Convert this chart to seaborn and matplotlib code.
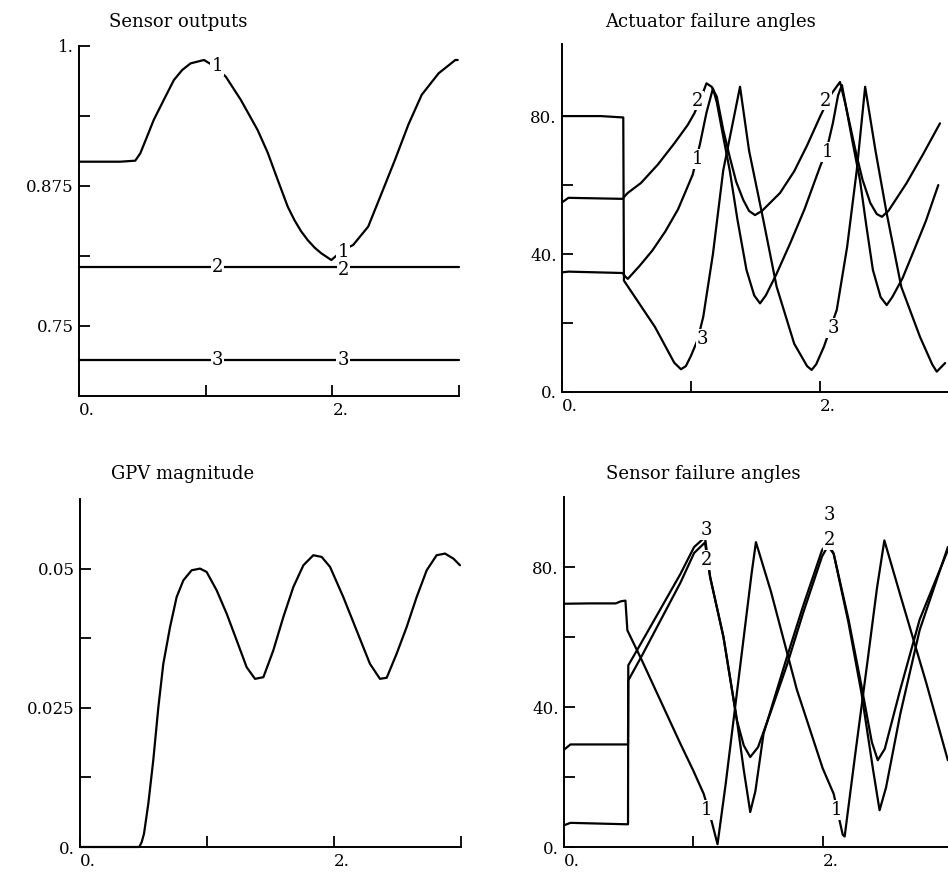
import numpy as np
import pandas as pd
import matplotlib
matplotlib.use("Agg")
import matplotlib.pyplot as plt
import seaborn as sns

# ---- Sensor outputs ----
so1_t = [0, 0.325, 0.444, 0.484, 0.537, 0.590, 0.669, 0.749, 0.815, 0.881, 0.987, 1.06, 1.159,
         1.278, 1.410, 1.489, 1.569, 1.648, 1.701, 1.754, 1.807, 1.86, 1.913, 1.992, 2.085,
         2.164, 2.283, 2.389, 2.494, 2.601, 2.706, 2.839, 2.971, 2.99]
so1_v = [0.8967, 0.8967, 0.8976, 0.9042, 0.919, 0.934, 0.9518, 0.9696, 0.9786, 0.9845, 0.9875,
         0.9825, 0.9726, 0.9518, 0.925, 0.905, 0.8804, 0.8565, 0.8445, 0.8345, 0.8265, 0.820,
         0.8149, 0.8089, 0.8179, 0.8223, 0.8387, 0.8685, 0.8982, 0.930, 0.9565, 0.9756, 0.9875,
         0.9875]
so2_t = [0, 3.0]
so2_v = [0.8025, 0.8025]
so3_t = [0, 3.0]
so3_v = [0.7196, 0.7196]

# ---- Actuator failure angles ----
af1_t = [0, 0.05, 0.47, 0.49, 0.51, 0.6, 0.7, 0.8, 0.9, 1.013, 1.07, 1.12, 1.17, 1.2, 1.25, 1.30,
         1.36, 1.43, 1.49, 1.535, 1.58, 1.66, 1.77, 1.88, 2.0, 2.05, 2.1, 2.14, 2.17, 2.2, 2.25,
         2.31, 2.36, 2.41, 2.47, 2.517, 2.56, 2.64, 2.72, 2.82, 2.917]
af1_v = [34.7, 34.9, 34.5, 33.5, 32.8, 36.5, 41, 46.5, 53, 63, 72, 81, 88, 84, 74, 64.3,
         50, 35.4, 28, 25.7, 28, 34, 43.2, 53, 65.3, 70, 78, 86, 89, 83, 73,
         61.4, 48, 35.4, 27.5, 25.2, 27.5, 33, 40.3, 49.5, 60]
af2_t = [0, 0.02, 0.05, 0.47, 0.48, 0.509, 0.612, 0.742, 0.871, 0.974, 1.026, 1.08, 1.12, 1.16,
         1.2, 1.25, 1.30, 1.35, 1.405, 1.45, 1.496, 1.55, 1.69, 1.8, 1.9, 2.0, 2.08, 2.155, 2.2,
         2.28, 2.33, 2.39, 2.44, 2.48, 2.53, 2.67, 2.8, 2.93]
af2_v = [55.0, 55.5, 56.3, 56.0, 56.5, 57.7, 60.6, 65.9, 72.1, 77.4, 80.8, 85.5, 89.5, 88.5,
         85.6, 76, 68.2, 61, 55.7, 52.5, 51.3, 52.5, 57.7, 64, 71.5, 79.8, 86, 89.9, 83,
         69.2, 61.5, 54.8, 51.6, 50.8, 52.5, 60.5, 69, 77.9]
af3_t = [0, 0.3, 0.475, 0.48, 0.72, 0.87, 0.922, 0.96, 1.0, 1.05, 1.095, 1.17, 1.25, 1.328, 1.38,
         1.45, 1.56, 1.664, 1.8, 1.9, 1.935, 1.97, 2.03, 2.13, 2.21, 2.285, 2.35, 2.43, 2.516,
         2.63, 2.775, 2.87, 2.905, 2.97]
af3_v = [80, 80, 79.6, 32.3, 18.9, 8.5, 6.6, 7.5, 10.5, 15, 21.8, 40, 64.3, 78.8, 88.5,
         70, 50, 30.5, 14, 7.5, 6.4, 8, 13.1, 23.8, 42, 64.3, 88.5, 70, 52,
         30.5, 16, 8, 5.9, 8.4]

# ---- GPV magnitude ----
gpv_t = [0, 0.467, 0.486, 0.504, 0.538, 0.577, 0.617, 0.656, 0.709, 0.761, 0.814, 0.879, 0.945,
         0.997, 1.076, 1.155, 1.234, 1.312, 1.378, 1.444, 1.522, 1.601, 1.680, 1.759, 1.837,
         1.903, 1.969, 2.073, 2.178, 2.283, 2.362, 2.415, 2.493, 2.572, 2.651, 2.730, 2.808,
         2.874, 2.940, 2.992]
gpv_v = [0, 0, 0.0009, 0.0024, 0.0078, 0.0156, 0.0251, 0.0329, 0.0395, 0.0449, 0.0479, 0.0497,
         0.0500, 0.0494, 0.0461, 0.0419, 0.0371, 0.0323, 0.0302, 0.0305, 0.0353, 0.0413, 0.0467,
         0.0506, 0.0524, 0.0521, 0.0503, 0.0449, 0.0389, 0.0329, 0.0302, 0.0304, 0.0347, 0.0395,
         0.0449, 0.0497, 0.0524, 0.0527, 0.0518, 0.0506]

# ---- Sensor failure angles ----
sf1_t = [0, 0.2, 0.4, 0.44, 0.475, 0.49, 0.6, 0.7, 0.8, 0.9, 1.0, 1.08, 1.13, 1.187, 1.25, 1.3,
         1.35, 1.4, 1.45, 1.484, 1.6, 1.8, 2.0, 2.085, 2.155, 2.17, 2.25, 2.35, 2.42, 2.477, 2.6,
         2.8, 2.968]
sf1_v = [69.5, 69.6, 69.6, 70.2, 70.4, 61.9, 53.5, 45.5, 37.5, 29.5, 21.8, 15.2, 9, 0.8, 18, 33,
         48, 63, 78, 87.1, 73, 45, 22.5, 15.2, 3.5, 3.0, 26, 54, 74, 87.6, 72,
         47, 24.8]
sf2_t = [0, 0.05, 0.477, 0.495, 0.497, 0.6, 0.7, 0.8, 0.9, 1.006, 1.09, 1.13, 1.233, 1.337, 1.39,
         1.44, 1.5, 1.594, 1.724, 1.85, 1.995, 2.04, 2.085, 2.2, 2.3, 2.38, 2.426, 2.48, 2.6,
         2.75, 2.968]
sf2_v = [27.8, 29.3, 29.3, 29.3, 47.6, 54.5, 61.5, 68.5, 75.5, 84.0, 87, 77.1, 60, 36.2, 29,
         25.7, 28.5, 38.1, 52, 67, 83, 86, 83.8, 65, 46, 30, 24.8, 28, 45,
         65, 84.8]
sf3_t = [0, 0.05, 0.477, 0.495, 0.497, 0.6, 0.7, 0.8, 0.9, 1.006, 1.09, 1.13, 1.233, 1.337, 1.39,
         1.44, 1.48, 1.543, 1.724, 1.85, 1.995, 2.04, 2.085, 2.2, 2.3, 2.39, 2.44, 2.49, 2.6,
         2.75, 2.968]
sf3_v = [6.2, 6.9, 6.5, 6.5, 51.9, 58.5, 65, 71.5, 78, 85.7, 88.5, 77.1, 60, 36.2, 22,
         10, 16, 32.4, 54.3, 69, 84.8, 87, 83.8, 64, 44, 22, 10.5, 17, 38,
         62, 85.7]

sns.set_style("ticks")
plt.rcParams["font.family"] = ["DejaVu Serif"]
plt.rcParams["text.color"] = "black"

fig = plt.figure(figsize=(9.48, 8.75), dpi=100)
W, H = 948, 875


def px_axes(left, bottom, right, top):
    return fig.add_axes([left / W, 1 - bottom / H, (right - left) / W, (bottom - top) / H])


def draw(ax, t, v):
    df = pd.DataFrame({"t": t, "v": v})
    sns.lineplot(data=df, x="t", y="v", sort=False, estimator=None, color="black",
                 lw=1.6, ax=ax, clip_on=False)


def style(ax, xlim, ylim, yticks, ylabels, xticks=(0, 1, 2, 3), xlabels=("0.", "", "2.", "")):
    ax.set_xlim(*xlim)
    ax.set_ylim(*ylim)
    ax.set_xticks(list(xticks))
    ax.set_xticklabels(list(xlabels), ha="left")
    ax.set_yticks(list(yticks))
    ax.set_yticklabels(list(ylabels))
    ax.set_xlabel("")
    ax.set_ylabel("")
    sns.despine(ax=ax)
    for s in ("left", "bottom"):
        ax.spines[s].set_linewidth(1.4)
        ax.spines[s].set_color("black")
    ax.tick_params(direction="in", length=8, width=1.3, labelsize=12, pad=4,
                   colors="black", labelcolor="black")


def lab(ax, x, y, s):
    ax.text(x, y, s, fontsize=13, ha="center", va="center", zorder=5, color="black",
            bbox=dict(facecolor="white", edgecolor="none", pad=0.6))


# Sensor outputs
ax1 = px_axes(79, 396, 459, 46)
draw(ax1, so1_t, so1_v)
draw(ax1, so2_t, so2_v)
draw(ax1, so3_t, so3_v)
style(ax1, (0, 3), (0.6875, 1.0), [0.75, 0.8125, 0.875, 0.9375, 1.0],
      ["0.75", "", "0.875", "", "1."])
for x, y, s in [(1.09, 0.982, "1"), (2.085, 0.8165, "1"), (1.093, 0.8025, "2"),
                (2.085, 0.800, "2"), (1.093, 0.7196, "3"), (2.085, 0.7196, "3")]:
    lab(ax1, x, y, s)
fig.text(178 / W, 1 - 22 / H, "Sensor outputs", ha="center", va="center", fontsize=13,
         color="black")

# Actuator failure angles
ax2 = px_axes(562, 392, 949, 44)
draw(ax2, af1_t, af1_v)
draw(ax2, af2_t, af2_v)
draw(ax2, af3_t, af3_v)
style(ax2, (0, 3), (0, 100.9), [0, 20, 40, 60, 80], ["0.", "", "40.", "", "80."])
for x, y, s in [(1.05, 84.5, "2"), (1.05, 67.5, "1"), (1.09, 15.5, "3"),
                (2.04, 84.5, "2"), (2.06, 69.5, "1"), (2.1, 18.5, "3")]:
    lab(ax2, x, y, s)
fig.text(710 / W, 1 - 22 / H, "Actuator failure angles", ha="center", va="center",
         fontsize=13, color="black")

# GPV magnitude
ax3 = px_axes(80, 847, 461, 499)
draw(ax3, gpv_t, gpv_v)
style(ax3, (0, 3), (0, 0.0625), [0, 0.0125, 0.025, 0.0375, 0.05],
      ["0.", "", "0.025", "", "0.05"])
fig.text(183 / W, 1 - 474 / H, "GPV magnitude", ha="center", va="center", fontsize=13,
         color="black")

# Sensor failure angles
ax4 = px_axes(564, 847, 952, 497)
draw(ax4, sf1_t, sf1_v)
draw(ax4, sf2_t, sf2_v)
draw(ax4, sf3_t, sf3_v)
style(ax4, (0, 3), (0, 100), [0, 20, 40, 60, 80], ["0.", "", "40.", "", "80."])
for x, y, s in [(1.104, 90.5, "3"), (1.104, 81.9, "2"), (1.104, 10.5, "1"),
                (2.05, 94.8, "3"), (2.05, 87.6, "2"), (2.11, 10.5, "1")]:
    lab(ax4, x, y, s)
fig.text(703 / W, 1 - 474 / H, "Sensor failure angles", ha="center", va="center",
         fontsize=13, color="black")

fig.savefig("out.png", dpi=100, facecolor="white")
